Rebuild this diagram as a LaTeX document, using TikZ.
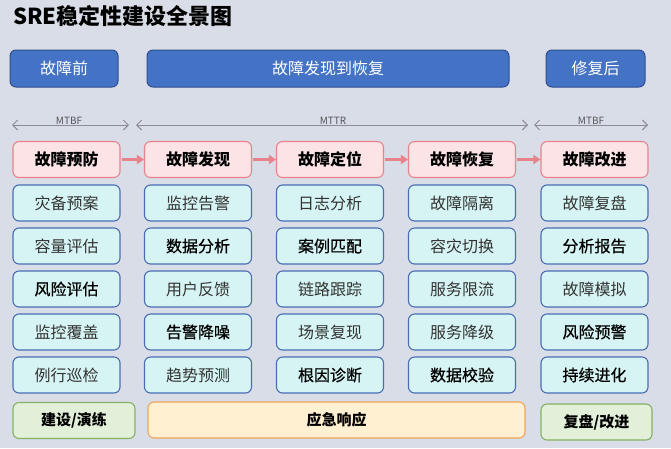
\documentclass[tikz,border=0pt]{standalone}
\usepackage{fontspec}
\setmainfont{Noto Sans CJK SC}
\newfontfamily\semib{Noto Sans CJK SC}[FakeBold=0.6]
\usetikzlibrary{arrows.meta}
\definecolor{bgc}{HTML}{D9DDE7}
\definecolor{bluef}{HTML}{4472C4}
\definecolor{blued}{HTML}{2F4F8F}
\definecolor{pinkf}{HTML}{FCE3E6}
\definecolor{pinkd}{HTML}{E8838C}
\definecolor{cyanf}{HTML}{D6F4F4}
\definecolor{cyand}{HTML}{4A6DB4}
\definecolor{greenf}{HTML}{E3F0D9}
\definecolor{greend}{HTML}{86B064}
\definecolor{orangef}{HTML}{FFF0D2}
\definecolor{oranged}{HTML}{F0A45A}
\definecolor{arrg}{HTML}{8A8D94}
\definecolor{txtg}{HTML}{333333}
\tikzset{
  topbox/.style={draw=blued, fill=bluef, line width=1pt, rounded corners=6pt, minimum height=37pt, text=white, font=\fontsize{16}{19}\selectfont, inner sep=0pt},
  headbox/.style={draw=pinkd, fill=pinkf, line width=1.1pt, rounded corners=6pt, minimum width=107pt, minimum height=36pt, font=\fontsize{16}{19}\selectfont\bfseries, inner sep=0pt},
  itembox/.style={draw=cyand, fill=cyanf, line width=1.1pt, rounded corners=6pt, minimum width=107pt, minimum height=36pt, text=txtg, font=\fontsize{16}{19}\selectfont, inner sep=0pt},
  itemdark/.style={itembox, text=black, font=\fontsize{16}{19}\semib},
  greenbox/.style={draw=greend, fill=greenf, line width=1.1pt, rounded corners=6pt, minimum height=36pt, font=\fontsize{15}{18}\selectfont\bfseries, inner sep=0pt},
  orangebox/.style={draw=oranged, fill=orangef, line width=1.1pt, rounded corners=6pt, minimum height=36pt, font=\fontsize{15}{18}\selectfont\bfseries, inner sep=0pt},
  span/.style={draw=arrg, line width=0.9pt, {Straight Barb[length=5pt,width=10pt]}-{Straight Barb[length=5pt,width=10pt]}},
  spanlbl/.style={text=arrg!60!black, font=\fontsize{10}{11}\selectfont, inner sep=0pt},
  flow/.style={draw=pinkd, line width=2.5pt, -{Triangle[length=7pt,width=9pt]}, shorten <=1pt, shorten >=0pt}
}
\begin{document}
\begin{tikzpicture}[x=1pt,y=-1pt]
\fill[bgc] (0,0) rectangle (671,448);
\useasboundingbox (0,0) rectangle (671,448);
% title
\node[anchor=west, inner sep=0pt, font=\fontsize{22}{25}\selectfont\bfseries] (title) at (13,16) {SRE稳定性建设全景图};
% top boxes
\node[topbox, minimum width=108pt] (pre) at (64,68.5) {故障前};
\node[topbox, minimum width=362pt] (mid) at (328,68.5) {故障发现到恢复};
\node[topbox, minimum width=99pt] (post) at (595.5,68.5) {修复后};
% span arrows
\coordinate (a1) at (12,125); \coordinate (b1) at (129,125);
\coordinate (a2) at (136,125); \coordinate (b2) at (528,125);
\coordinate (a3) at (534,125); \coordinate (b3) at (648,125);
\draw[span] (a1) -- (b1);
\draw[span] (a2) -- (b2);
\draw[span] (a3) -- (b3);
\node[spanlbl] (l1) at (69,120.5) {MTBF};
\node[spanlbl] (l2) at (333,120.5) {MTTR};
\node[spanlbl] (l3) at (591,120.5) {MTBF};
% headers
\node[headbox] (h1) at (66.5,159.5) {故障预防};
\node[headbox] (h2) at (198,159.5) {故障发现};
\node[headbox] (h3) at (330,159.5) {故障定位};
\node[headbox] (h4) at (462,159.5) {故障恢复};
\node[headbox] (h5) at (594.5,159.5) {故障改进};
\draw[flow] (h1) -- (h2);
\draw[flow] (h2) -- (h3);
\draw[flow] (h3) -- (h4);
\draw[flow] (h4) -- (h5);
% column 1
\node[itembox] (c11) at (66.5,203) {灾备预案};
\node[itembox] (c12) at (66.5,246) {容量评估};
\node[itemdark] (c13) at (66.5,289) {风险评估};
\node[itembox] (c14) at (66.5,332) {监控覆盖};
\node[itembox] (c15) at (66.5,375) {例行巡检};
% column 2
\node[itembox] (c21) at (198,203) {监控告警};
\node[itemdark] (c22) at (198,246) {数据分析};
\node[itembox] (c23) at (198,289) {用户反馈};
\node[itemdark] (c24) at (198,332) {告警降噪};
\node[itembox] (c25) at (198,375) {趋势预测};
% column 3
\node[itembox] (c31) at (330,203) {日志分析};
\node[itemdark] (c32) at (330,246) {案例匹配};
\node[itembox] (c33) at (330,289) {链路跟踪};
\node[itembox] (c34) at (330,332) {场景复现};
\node[itemdark] (c35) at (330,375) {根因诊断};
% column 4
\node[itembox] (c41) at (462,203) {故障隔离};
\node[itembox] (c42) at (462,246) {容灾切换};
\node[itembox] (c43) at (462,289) {服务限流};
\node[itembox] (c44) at (462,332) {服务降级};
\node[itemdark] (c45) at (462,375) {数据校验};
% column 5
\node[itembox] (c51) at (594.5,203) {故障复盘};
\node[itemdark] (c52) at (594.5,246) {分析报告};
\node[itembox] (c53) at (594.5,289) {故障模拟};
\node[itemdark] (c54) at (594.5,332) {风险预警};
\node[itemdark] (c55) at (594.5,375) {持续进化};
% bottom
\node[greenbox, minimum width=122pt] (g1) at (74,420.5) {建设/演练};
\node[orangebox, minimum width=377pt] (o1) at (336.5,420) {应急响应};
\node[greenbox, minimum width=111pt] (g2) at (596.5,422) {复盘/改进};
\end{tikzpicture}
\end{document}
